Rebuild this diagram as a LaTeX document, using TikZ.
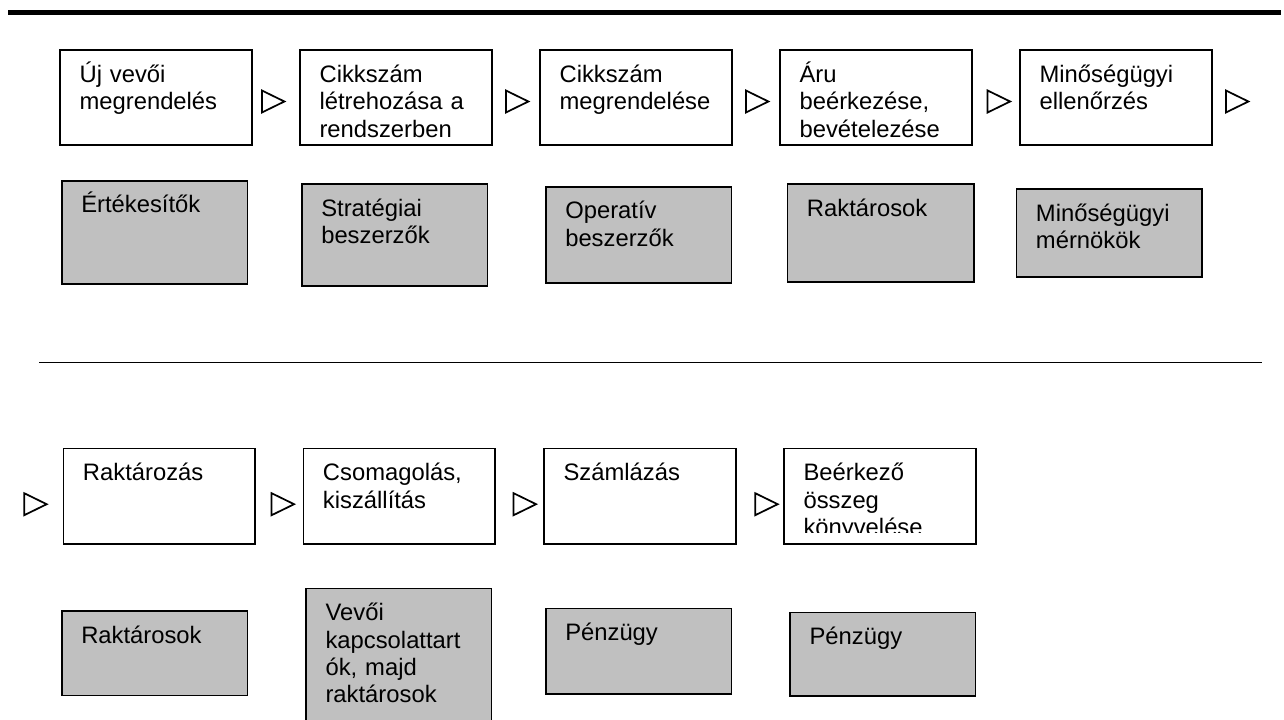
\documentclass[tikz,border=0pt]{standalone}
\usepackage{fontspec}
\setmainfont{Liberation Sans}
\definecolor{rolegray}{RGB}{192,192,192}

\tikzset{
  stepbox/.style={draw=black, line width=1.3pt, fill=white, anchor=north west, inner sep=0pt, minimum width=143.6pt, minimum height=71.3pt},
  rolebox/.style 2 args={draw=black, line width=1.3pt, fill=rolegray, anchor=north west, inner sep=0pt, minimum width=#1, minimum height=#2},
  boxtext/.style={anchor=base west, inner sep=0pt, text width=112pt, align=left, font=\fontsize{17.85pt}{20.55pt}\selectfont},
  flowmark/.style={draw=black, line width=1.3pt, line join=miter}
}

\begin{document}
\begin{tikzpicture}[x=0.75pt, y=-0.75pt]
\clip (0,0) rectangle (1284,720);
\draw[line width=3.75pt] (8,12.8) -- (1281,12.8);
\draw[line width=1pt] (39,362.3) -- (1262,362.3);
% first row
\node[stepbox] (s1) at (59.3,49.3) {};
\node[stepbox] (s2) at (299.3,49.3) {};
\node[stepbox] (s3) at (539.3,49.3) {};
\node[stepbox] (s4) at (779.3,49.3) {};
\node[stepbox] (s5) at (1019.3,49.3) {};
\node[boxtext] (s1t) at ([shift={(20,33)}]s1.north west) {Új vevői\\megrendelés};
\node[boxtext] (s2t) at ([shift={(20,33)}]s2.north west) {Cikkszám\\létrehozása a\\rendszerben};
\node[boxtext] (s3t) at ([shift={(20,33)}]s3.north west) {Cikkszám\\megrendelése};
\node[boxtext] (s4t) at ([shift={(20,33)}]s4.north west) {Áru\\beérkezése,\\bevételezése};
\node[boxtext] (s5t) at ([shift={(20,33)}]s5.north west) {Minőségügyi\\ellenőrzés};
\draw[flowmark] (261.9,90.5) -- ++(22.5,11) -- ++(-22.5,11) -- cycle;
\draw[flowmark] (505.9,90.5) -- ++(22.5,11) -- ++(-22.5,11) -- cycle;
\draw[flowmark] (745.9,90.5) -- ++(22.5,11) -- ++(-22.5,11) -- cycle;
\draw[flowmark] (987.6,90.5) -- ++(22.5,11) -- ++(-22.5,11) -- cycle;
\draw[flowmark] (1225.9,90.5) -- ++(22.5,11) -- ++(-22.5,11) -- cycle;
\node[rolebox={139.3pt}{77.6pt}] (r1) at (61,180) {};
\node[rolebox={139.3pt}{76.4pt}] (r2) at (301,183.3) {};
\node[rolebox={139.3pt}{71.9pt}] (r3) at (545,186) {};
\node[rolebox={139.6pt}{73.4pt}] (r4) at (786.7,183.3) {};
\node[rolebox={138.8pt}{65.9pt}] (r5) at (1015.7,188.3) {};
\node[boxtext] (r1t) at ([shift={(20,33)}]r1.north west) {Értékesítők};
\node[boxtext] (r2t) at ([shift={(20,33)}]r2.north west) {Stratégiai\\beszerzők};
\node[boxtext] (r3t) at ([shift={(20,33)}]r3.north west) {Operatív\\beszerzők};
\node[boxtext] (r4t) at ([shift={(20,33)}]r4.north west) {Raktárosok};
\node[boxtext] (r5t) at ([shift={(20,33)}]r5.north west) {Minőségügyi\\mérnökök};
% second row
\node[stepbox] (s6) at (62.7,447.7) {};
\node[stepbox] (s7) at (302.7,447.7) {};
\node[stepbox] (s8) at (543.3,447.7) {};
\node[stepbox] (s9) at (783.3,447.7) {};
\node[boxtext] (s6t) at ([shift={(20,33)}]s6.north west) {Raktározás};
\node[boxtext] (s7t) at ([shift={(20,33)}]s7.north west) {Csomagolás,\\kiszállítás};
\node[boxtext] (s8t) at ([shift={(20,33)}]s8.north west) {Számlázás};
\begin{scope}
\clip (783.3,447.7) rectangle (976,532);
\node[boxtext] (s9t) at ([shift={(20,33)}]s9.north west) {Beérkező\\összeg\\könyvelése};
\end{scope}
\draw[flowmark] (24.2,493.2) -- ++(22.5,11) -- ++(-22.5,11) -- cycle;
\draw[flowmark] (271.6,493.2) -- ++(22.5,11) -- ++(-22.5,11) -- cycle;
\draw[flowmark] (513.6,493.2) -- ++(22.5,11) -- ++(-22.5,11) -- cycle;
\draw[flowmark] (755.2,493.2) -- ++(22.5,11) -- ++(-22.5,11) -- cycle;
\node[rolebox={139.3pt}{63.4pt}] (r6) at (61,610) {};
\node[rolebox={138.9pt}{120pt}] (r7) at (305.3,587.7) {};
\node[rolebox={139.3pt}{63.8pt}] (r8) at (545,607.7) {};
\node[rolebox={138.9pt}{62.6pt}] (r9) at (789.3,611.7) {};
\node[boxtext] (r6t) at ([shift={(20,33)}]r6.north west) {Raktárosok};
\node[boxtext] (r7t) at ([shift={(20,33)}]r7.north west) {Vevői\\kapcsolattart\\ók, majd\\raktárosok};
\node[boxtext] (r8t) at ([shift={(20,33)}]r8.north west) {Pénzügy};
\node[boxtext] (r9t) at ([shift={(20,33)}]r9.north west) {Pénzügy};
\end{tikzpicture}
\end{document}
